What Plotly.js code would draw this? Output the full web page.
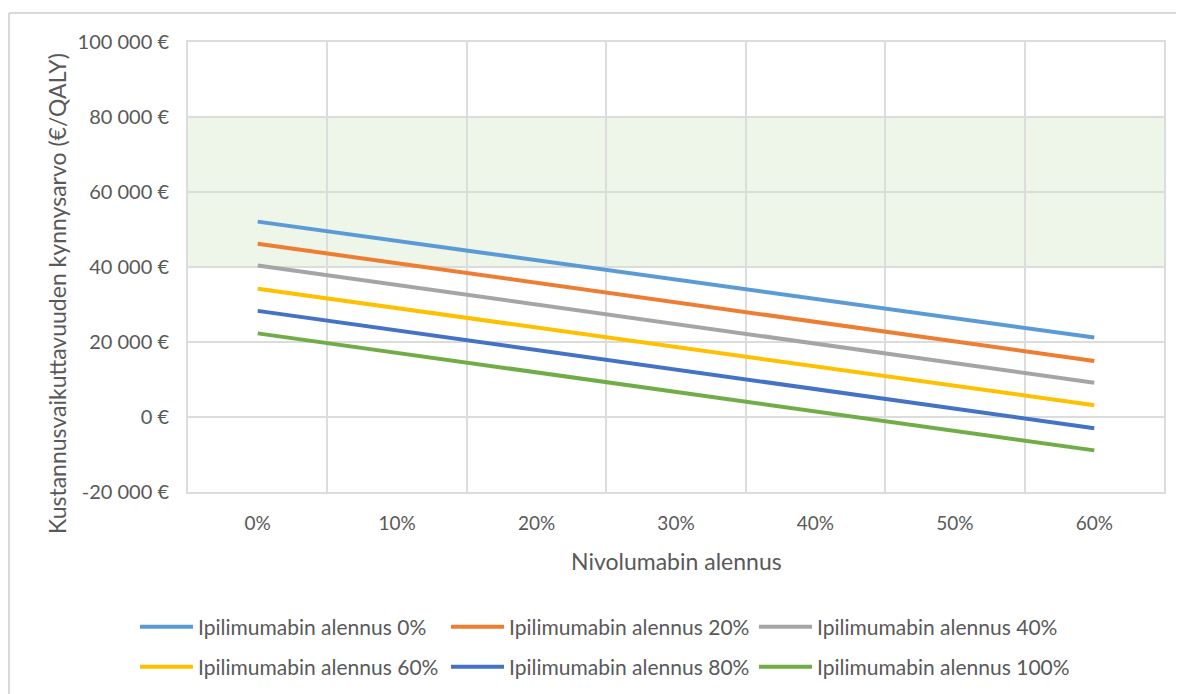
<!DOCTYPE html>
<html>
<head>
<meta charset="utf-8">
<script src="https://cdn.plot.ly/plotly-3.0.1.min.js"></script>
<style>
html,body{margin:0;padding:0;background:#fff;}
#chart{width:1177px;height:694px;}
</style>
</head>
<body>
<div id="chart"></div>
<script>
// Data
const categories = ["0%", "10%", "20%", "30%", "40%", "50%", "60%"];
const seriesNames = ["Ipilimumabin alennus 0%", "Ipilimumabin alennus 20%", "Ipilimumabin alennus 40%",
                     "Ipilimumabin alennus 60%", "Ipilimumabin alennus 80%", "Ipilimumabin alennus 100%"];
const ipi0   = [52100, 46950, 41800, 36650, 31500, 26350, 21200];
const ipi20  = [46200, 41000, 35800, 30600, 25400, 20150, 14950];
const ipi40  = [40400, 35200, 30000, 24800, 19600, 14350, 9150];
const ipi60  = [34200, 29000, 23800, 18650, 13500, 8300, 3150];
const ipi80  = [28300, 23100, 17900, 12650, 7450, 2250, -3000];
const ipi100 = [22300, 17100, 11900, 6700, 1500, -3700, -8900];
const yTickVals = [-20000, 0, 20000, 40000, 60000, 80000, 100000];
const yTickText = ["-20 000 €", "0 €", "20 000 €", "40 000 €", "60 000 €", "80 000 €", "100 000 €"];
const bandLow = 40000, bandHigh = 80000;

const colors = ["#5B9BD5", "#ED7D31", "#A5A5A5", "#FFC000", "#4472C4", "#70AD47"];
const allSeries = [ipi0, ipi20, ipi40, ipi60, ipi80, ipi100];

const FONT = "Lato, 'Open Sans', sans-serif";
const TXT = "#595959";
const legendIds = ["legend", "legend2", "legend3", "legend4", "legend5", "legend6"];
const traces = allSeries.map((vals, i) => ({
  x: categories, y: vals, type: "scatter", mode: "lines", name: seriesNames[i],
  line: {color: colors[i], width: 4},
  legend: legendIds[i]
}));

const W = 1177, H = 694, L = 188, R = 13, T = 42, B = 202;
const pw = W - L - R, ph = H - T - B;
const px = v => (v - L) / pw;
const py = v => (H - B - v) / ph;

const legendBase = {
  orientation: "h", xanchor: "left", yanchor: "middle",
  font: {family: FONT, size: 21, color: TXT},
  itemwidth: 53, bgcolor: "rgba(0,0,0,0)"
};
// legend placement (pixel positions of each entry)
const legX = [135, 446, 754];
const legY = [627, 667];

const layout = {
  width: W, height: H,
  margin: {l: L, r: R, t: T, b: B, pad: 0, autoexpand: false},
  paper_bgcolor: "#ffffff", plot_bgcolor: "#ffffff",
  font: {family: FONT, size: 19, color: TXT},
  showlegend: true,
  xaxis: {
    type: "category", range: [-0.5, 6.5], tickson: "boundaries", automargin: false,
    showgrid: true, gridcolor: "#DCDCDC", gridwidth: 2,
    showline: true, linecolor: "#DCDCDC", linewidth: 2, mirror: true,
    ticks: "", ticklabelstandoff: 13, zeroline: false,
    tickfont: {family: FONT, size: 19, color: TXT},
    fixedrange: true
  },
  yaxis: {
    range: [-20000, 100000], tickvals: yTickVals, ticktext: yTickText, automargin: false,
    showgrid: true, gridcolor: "#DCDCDC", gridwidth: 2,
    showline: true, linecolor: "#DCDCDC", linewidth: 2, mirror: true,
    zeroline: false, ticks: "outside", ticklen: 13, tickcolor: "rgba(0,0,0,0)",
    tickfont: {family: FONT, size: 20, color: TXT},
    fixedrange: true
  },
  shapes: [
    {type: "rect", xref: "paper", yref: "y", x0: 0, x1: 1, y0: bandLow, y1: bandHigh,
     fillcolor: "#EEF5E9", line: {width: 0}, layer: "below"},
    {type: "line", xref: "paper", yref: "paper", x0: px(9), x1: px(9), y0: py(13), y1: py(700),
     line: {color: "#D9D9D9", width: 2}},
    {type: "line", xref: "paper", yref: "paper", x0: px(9), x1: px(1176), y0: py(13), y1: py(13),
     line: {color: "#D9D9D9", width: 2}}
  ],
  annotations: [
    {text: "Nivolumabin alennus", xref: "paper", yref: "paper", x: 0.5, y: py(561),
     xanchor: "center", yanchor: "middle", showarrow: false,
     font: {family: FONT, size: 23, color: TXT}},
    {text: "Kustannusvaikuttavuuden kynnysarvo (€/QALY)", xref: "paper", yref: "paper",
     x: px(57), y: py(294), xanchor: "center", yanchor: "middle", textangle: -90, showarrow: false,
     font: {family: FONT, size: 23, color: TXT}}
  ]
};
legendIds.forEach((id, i) => {
  layout[id] = Object.assign({}, legendBase, {x: px(legX[i % 3]), y: py(legY[Math.floor(i / 3)])});
});

Plotly.newPlot("chart", traces, layout, {displayModeBar: false, staticPlot: true});
</script>
</body>
</html>
